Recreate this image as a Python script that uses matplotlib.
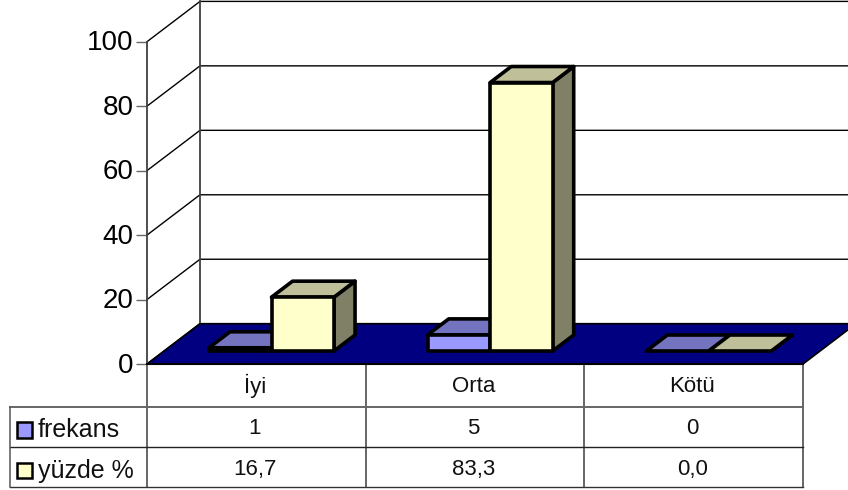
import matplotlib
matplotlib.use("Agg")
import matplotlib.pyplot as plt
from matplotlib.patches import Polygon, Rectangle
from matplotlib.transforms import ScaledTranslation

categories = ["İyi", "Orta", "Kötü"]
series_names = ["frekans", "yüzde %"]
frekans = [1, 5, 0]
yuzde = [16.7, 83.3, 0.0]
table_rows = [["1", "5", "0"], ["16,7", "83,3", "0,0"]]
yticks = [0, 20, 40, 60, 80, 100]

W, H = 848, 490
plt.rcParams['font.family'] = ['Liberation Sans', 'DejaVu Sans']
fig = plt.figure(figsize=(W / 100, H / 100), dpi=100, facecolor="white")

# front plane of the 3D box
L, R, T, B = 147, 803, 41.7, 364
ax = fig.add_axes([L / W, 1 - B / H, (R - L) / W, (B - T) / H])
ax.set_xlim(0, 3)
ax.set_ylim(0, 100)
ax.patch.set_visible(False)
for s in ax.spines.values():
    s.set_visible(False)
ax.spines["left"].set_visible(True)
ax.spines["left"].set_color("#404040")
ax.spines["left"].set_linewidth(1.3)
ax.set_xticks([])
ax.set_yticks(yticks)
ax.tick_params(axis="y", length=8, width=1, color="#666666", pad=1.5, labelsize=20)
for lab in ax.get_yticklabels():
    lab.set_transform(lab.get_transform() + ScaledTranslation(0, 1.5 / 100, fig.dpi_scale_trans))

px_x = 3 / (R - L)
px_y = 100 / (B - T)
DX, DY = 53 * px_x, 40.3 * px_y  # full depth of the box in data units


def proj(x, v, d=0.0):
    return (x + d * DX, v + d * DY)


def poly(pts, fc="none", ec="black", lw=1.0, z=1, join="round"):
    ax.add_patch(Polygon(pts, closed=True, facecolor=fc, edgecolor=ec, linewidth=lw,
                         zorder=z, clip_on=False, joinstyle=join))


# walls
for v in yticks:
    ax.plot(*zip(proj(0, v, 0), proj(0, v, 1), proj(3 + 2, v, 1)), color="black", lw=1.0,
            zorder=1, clip_on=False, solid_joinstyle="miter")
ax.plot(*zip(proj(0, 0, 1), proj(0, 100, 1)), color="#404040", lw=1.3, zorder=1, clip_on=False)
# floor
poly([proj(0, 0, 0), proj(3, 0, 0), proj(3, 0, 1), proj(0, 0, 1)], fc="#000080", ec="black", lw=1.2, z=2, join="miter")

# bars
BAR_W = 62.5 * px_x
D0, D1 = 13 / 40.3, 29 / 40.3
X0 = (209 - L) * px_x - D0 * DX
COLORS = {"frekans": ("#9999FF", "#7373BF", "#4C4C80"),
          "yüzde %": ("#FFFFCC", "#BFBF99", "#808066")}


def bar(x, v, cols, z):
    front, top, side = cols
    x1 = x + BAR_W
    lw = 2.6
    poly([proj(x1, 0, D0), proj(x1, 0, D1), proj(x1, v, D1), proj(x1, v, D0)], fc=side, lw=lw, z=z)
    poly([proj(x, v, D0), proj(x1, v, D0), proj(x1, v, D1), proj(x, v, D1)], fc=top, lw=lw, z=z)
    if v > 0:
        poly([proj(x, 0, D0), proj(x1, 0, D0), proj(x1, v, D0), proj(x, v, D0)], fc=front, lw=lw, z=z)


for i in range(3):
    cat_x = X0 + i
    bar(cat_x, frekans[i], COLORS["frekans"], 3 + i * 2)
    bar(cat_x + BAR_W, yuzde[i], COLORS["yüzde %"], 4 + i * 2)

# data table (pixel grid in figure space)
tab = fig.add_axes([0, 0, 1, 1])
tab.set_xlim(0, W)
tab.set_ylim(H, 0)
tab.axis("off")
tab.patch.set_visible(False)
col_x = [L + (R - L) * i / 3 for i in range(4)]
row_y = [364, 407, 447, 487]
for x in col_x:
    tab.plot([x, x], [row_y[0], row_y[-1]], color="#666666", lw=1.4)
tab.plot([10, R], [407, 407], color="#666666", lw=1.4)
tab.plot([10, R], [447, 447], color="#222222", lw=1.0)
tab.plot([10, R], [487, 487], color="#333333", lw=1.0)
tab.plot([10, 10], [407, 487], color="#555555", lw=1.1)
tab.plot([L, R], [364, 364], color="black", lw=1.5)
for i, c in enumerate(categories):
    tab.text((col_x[i] + col_x[i + 1]) / 2 - 1.5, 386, c, ha="center", va="center", fontsize=16, color="#111111")
legend_cols = ["#9999FF", "#FFFFCC"]
legend_y = [430, 470.5]
value_y = [428, 469]
for r, name in enumerate(series_names):
    tab.add_patch(Rectangle((16.5, legend_y[r] - 8), 15.5, 15.5, facecolor=legend_cols[r], edgecolor="black", lw=1.8))
    tab.text(38, legend_y[r], name, ha="left", va="center", fontsize=18, color="#111111")
    for i, t in enumerate(table_rows[r]):
        tab.text((col_x[i] + col_x[i + 1]) / 2 - 1.5, value_y[r], t, ha="center", va="center", fontsize=16, color="#111111")

fig.savefig("out.png", dpi=100, facecolor="white")
